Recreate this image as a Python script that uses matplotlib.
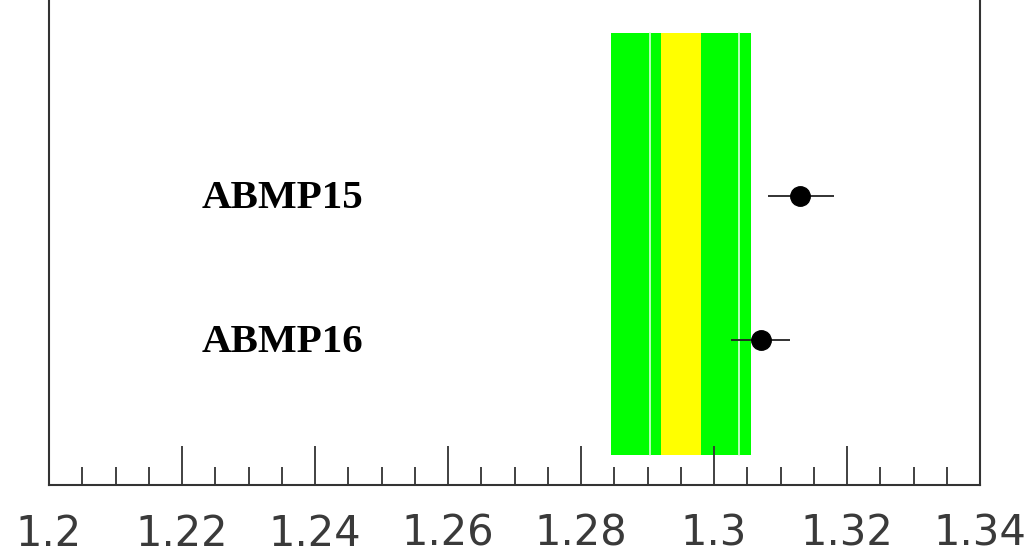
import matplotlib
matplotlib.use("Agg")
import matplotlib.pyplot as plt

# Data
labels = ["ABMP15", "ABMP16"]
values = [1.3129, 1.3071]
err_lo = [1.3081, 1.3026]
err_hi = [1.3180, 1.3114]
ypos = [5.96, 2.99]

green_band = (1.2845, 1.3056)
yellow_band = (1.2920, 1.2980)
white_lines = [1.2904, 1.3038]

xticks = [1.2, 1.22, 1.24, 1.26, 1.28, 1.3, 1.32, 1.34]
xtick_labels = ["1.2", "1.22", "1.24", "1.26", "1.28", "1.3", "1.32", "1.34"]

fig = plt.figure(figsize=(10.31, 5.54), dpi=100)
ax = fig.add_axes([49/1031, 69/554, (980-49)/1031, 485/554])
ax.set_xlim(1.2, 1.34)
ax.set_ylim(0, 10)

band_y0, band_y1 = 0.62, 9.32
ax.fill_between(green_band, band_y0, band_y1, color="#00ff00", lw=0, zorder=1)
ax.fill_between(yellow_band, band_y0, band_y1, color="#ffff00", lw=0, zorder=2)
for xl in white_lines:
    ax.plot([xl, xl], [band_y0, band_y1], color="#d8ffd8", lw=1.2, zorder=3)

for v, lo, hi, y, lab in zip(values, err_lo, err_hi, ypos, labels):
    ax.errorbar(v, y, xerr=[[v - lo], [hi - v]], fmt="o", color="black",
                ecolor="#222222", ms=14, elinewidth=1.3, capsize=0, zorder=5)
    ax.text(1.2230, y - 0.05, lab, ha="left", va="center", fontsize=29.5,
            fontweight="bold", family="Liberation Serif", color="black")

ax.set_xticks(xticks)
ax.set_xticklabels(xtick_labels)
ax.set_xticks([1.2 + 0.005 * i for i in range(29)], minor=True)
ax.tick_params(axis="x", which="major", direction="in", length=28, width=1.3,
               color="#333333", pad=20, labelsize=30, labelcolor="#3a3a3a")
ax.tick_params(axis="x", which="minor", direction="in", length=13, width=1.3,
               color="#333333")
for t in ax.get_xticklabels():
    t.set_family("DejaVu Sans")
ax.set_yticks([])
ax.spines["top"].set_visible(False)
for s in ["left", "right", "bottom"]:
    ax.spines[s].set_color("#333333")
    ax.spines[s].set_linewidth(1.5)

fig.savefig("out.png", dpi=100)
